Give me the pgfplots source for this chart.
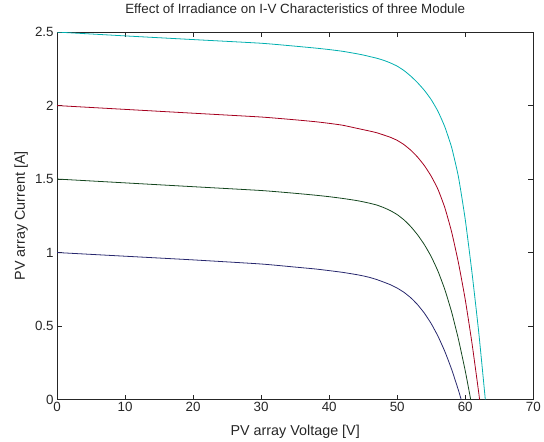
\documentclass[border=0pt]{standalone}
\usepackage{pgfplots}
\pgfplotsset{compat=1.18}
\usepackage{fontspec}
\setmainfont{Liberation Sans}

\definecolor{curvec}{RGB}{0,175,175}
\definecolor{curver}{RGB}{165,0,30}
\definecolor{curveg}{RGB}{20,70,30}
\definecolor{curveb}{RGB}{40,40,110}

\begin{document}
\begin{tikzpicture}
\begin{axis}[
  scale only axis,
  width=479.5bp,
  height=370bp,
  xmin=0, xmax=70,
  ymin=0, ymax=2.5,
  xtick={0,10,...,70},
  ytick={0,0.5,...,2.5},
  tick align=inside,
  major tick length=5bp,
  tick style={black!85, thin},
  axis line style={black!85, thin},
  /pgf/number format/assume math mode=true,
  tick label style={font=\fontsize{13.5}{14}\selectfont, color=black!85},
  xticklabel style={yshift=1bp},
  title={Effect of Irradiance on I-V Characteristics of three Module},
  title style={font=\fontsize{13.5}{14}\selectfont, color=black!85,
    at={(axis description cs:0.5,1)}, anchor=base, yshift=13bp},
  xlabel={PV array Voltage [V]},
  ylabel={PV array Current [A]},
  every axis x label/.style={font=\fontsize{14.5}{15}\selectfont, color=black!85,
    at={(axis description cs:0.5,0)}, anchor=base, yshift=-36bp},
  every axis y label/.style={font=\fontsize{14.5}{15}\selectfont, color=black!85,
    at={(axis description cs:0,0.5)}, rotate=90, anchor=base, yshift=32.5bp},
  every axis plot/.append style={line width=0.8bp, smooth, tension=0.3},
]
% 2.5 A
\addplot[curvec] coordinates {
  (0,2.5) (10,2.474) (20,2.449) (30,2.424) (35,2.404) (38,2.391) (40,2.381)
  (42,2.369) (44,2.353) (45,2.344) (46,2.333) (47,2.322) (48,2.308) (49,2.290)
  (50,2.268) (51,2.238) (52,2.200) (53,2.155) (54,2.103) (55,2.040) (56,1.960)
  (57,1.855) (58,1.715) (59,1.515) (60,1.225) (61,0.86) (62,0.45) (62.95,0)
};
% 2.0 A
\addplot[curver] coordinates {
  (0,2.0) (10,1.974) (20,1.948) (30,1.922) (35,1.903) (38,1.890) (40,1.879)
  (42,1.866) (44,1.846) (45,1.836) (46,1.826) (47,1.815) (48,1.800) (49,1.784)
  (50,1.763) (51,1.734) (52,1.696) (53,1.649) (54,1.591) (55,1.519) (56,1.429)
  (57,1.305) (58,1.14) (59,0.93) (60,0.68) (61,0.38) (62,0.04) (62.1,0)
};
% 1.5 A
\addplot[curveg] coordinates {
  (0,1.5) (10,1.474) (20,1.448) (30,1.422) (35,1.403) (38,1.390) (40,1.380)
  (42,1.368) (44,1.354) (45,1.345) (46,1.335) (47,1.323) (48,1.306) (49,1.285)
  (50,1.258) (51,1.222) (52,1.176) (53,1.120) (54,1.053) (55,0.972) (56,0.872)
  (57,0.748) (58,0.595) (59,0.41) (60,0.195) (60.8,0)
};
% 1.0 A
\addplot[curveb] coordinates {
  (0,1.0) (10,0.975) (20,0.95) (30,0.922) (35,0.901) (38,0.888) (40,0.877)
  (42,0.865) (44,0.850) (45,0.841) (46,0.830) (47,0.816) (48,0.799) (49,0.781)
  (50,0.758) (51,0.729) (52,0.692) (53,0.645) (54,0.587) (55,0.516) (56,0.43)
  (57,0.327) (58,0.205) (59,0.063) (59.4,0)
};
\end{axis}
\path ([shift={(-57.5bp,-41.7bp)}]current axis.south west) rectangle ([shift={(7bp,32.3bp)}]current axis.north east);
\end{tikzpicture}
\end{document}
